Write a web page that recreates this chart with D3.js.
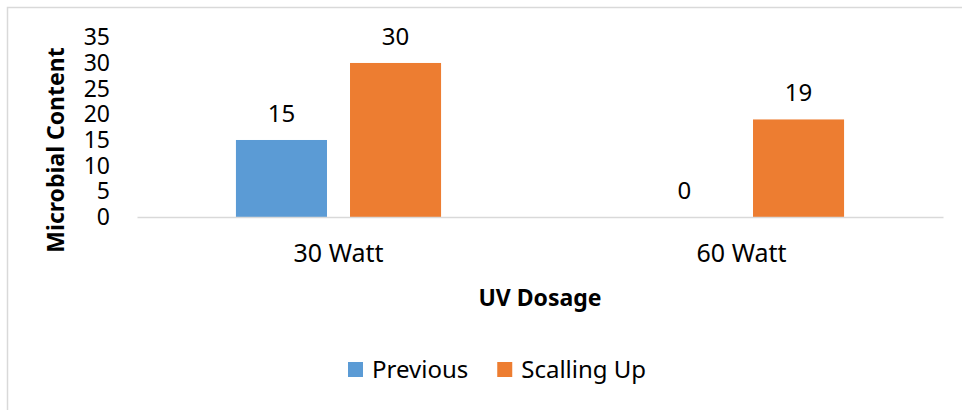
<!DOCTYPE html>
<html>
<head>
<meta charset="utf-8">
<script src="https://cdn.jsdelivr.net/npm/d3@7"></script>
<style>
  body { margin: 0; background: #fff; }
  text { font-family: "Noto Sans", "Open Sans", sans-serif; fill: #000; }
</style>
</head>
<body>
<svg id="chart" width="962" height="410"></svg>
<script>
// chart data
var categories = ["30 Watt", "60 Watt"],
  seriesNames = ["Previous", "Scalling Up"],
  seriesColors = ["#5B9BD5", "#ED7D31"],
  previous = [15, 0],
  scallingUp = [30, 19],
  yTicks = [0, 5, 10, 15, 20, 25, 30, 35];

(function () {
  "use strict";

  var svg = d3.select("#chart"),
    plotLeft = 137,
    plotRight = 943,
    plotTop = 37.3,
    plotBottom = 217;

  // outer chart frame
  svg.append("rect")
    .attr("x", 7.5)
    .attr("y", 7.5)
    .attr("width", 980)
    .attr("height", 440)
    .attr("fill", "none")
    .attr("stroke", "#d9d9d9")
    .attr("stroke-width", 1.5);

  var x = d3.scaleBand()
    .domain(categories)
    .range([plotLeft, plotRight])
    .paddingInner(0.491)
    .paddingOuter(0.2455);

  var xSeries = d3.scaleBand()
    .domain(seriesNames)
    .range([0, x.bandwidth()])
    .paddingInner(0.2018);

  var y = d3.scaleLinear()
    .domain([0, 35])
    .range([plotBottom, plotTop]);

  var rows = categories.map(function (c, i) {
    return { cat: c, values: [previous[i], scallingUp[i]] };
  });

  // y axis: labels only
  var yAxis = svg.append("g")
    .attr("transform", "translate(" + plotLeft + ",0)")
    .call(d3.axisLeft(y).tickValues(yTicks).tickSize(0).tickPadding(27));
  yAxis.select(".domain").remove();
  yAxis.selectAll("text")
    .style("font-size", "23px")
    .style("font-family", "'Noto Sans', sans-serif")
    .attr("fill", "#000");

  // bars
  var groups = svg.selectAll(".grp")
    .data(rows)
    .enter()
    .append("g")
    .attr("class", "grp")
    .attr("transform", function (d) { return "translate(" + x(d.cat) + ",0)"; });

  var cells = function (d) {
    return d.values.map(function (v, j) { return { name: seriesNames[j], v: v, j: j }; });
  };

  groups.selectAll("rect")
    .data(cells)
    .enter()
    .append("rect")
    .attr("x", function (d) { return xSeries(d.name); })
    .attr("y", function (d) { return y(d.v); })
    .attr("width", xSeries.bandwidth())
    .attr("height", function (d) { return plotBottom - y(d.v); })
    .attr("fill", function (d) { return seriesColors[d.j]; });

  groups.selectAll(".lbl")
    .data(cells)
    .enter()
    .append("text")
    .attr("class", "lbl")
    .attr("x", function (d) { return xSeries(d.name) + xSeries.bandwidth() / 2; })
    .attr("y", function (d) { return y(d.v) - 18; })
    .attr("text-anchor", "middle")
    .style("font-size", "24px")
    .text(function (d) { return d.v; });

  // x axis
  var xAxis = svg.append("g")
    .attr("transform", "translate(0," + plotBottom + ")")
    .call(d3.axisBottom(x).tickSize(0).tickPadding(27));
  xAxis.select(".domain")
    .attr("stroke", "#d9d9d9")
    .attr("stroke-width", 1.5);
  xAxis.selectAll("text")
    .style("font-size", "25px")
    .style("font-family", "'Noto Sans', sans-serif")
    .attr("fill", "#000");

  // axis titles
  svg.append("text")
    .attr("x", (plotLeft + plotRight) / 2)
    .attr("y", 306)
    .attr("text-anchor", "middle")
    .style("font-size", "23px")
    .style("font-weight", "bold")
    .text("UV Dosage");

  svg.append("text")
    .attr("transform", "translate(64,150) rotate(-90)")
    .attr("text-anchor", "middle")
    .style("font-size", "23px")
    .style("font-weight", "bold")
    .text("Microbial Content");

  // legend
  var legend = svg.append("g"),
    lx = 348;
  seriesNames.forEach(function (name, i) {
    legend.append("rect")
      .attr("x", lx)
      .attr("y", 362)
      .attr("width", 15)
      .attr("height", 15)
      .attr("fill", seriesColors[i]);
    var t = legend.append("text")
      .attr("x", lx + 24)
      .attr("y", 378)
      .style("font-size", "24px")
      .text(name);
    lx += 24 + t.node().getComputedTextLength() + 29;
  });
}());
</script>
</body>
</html>
